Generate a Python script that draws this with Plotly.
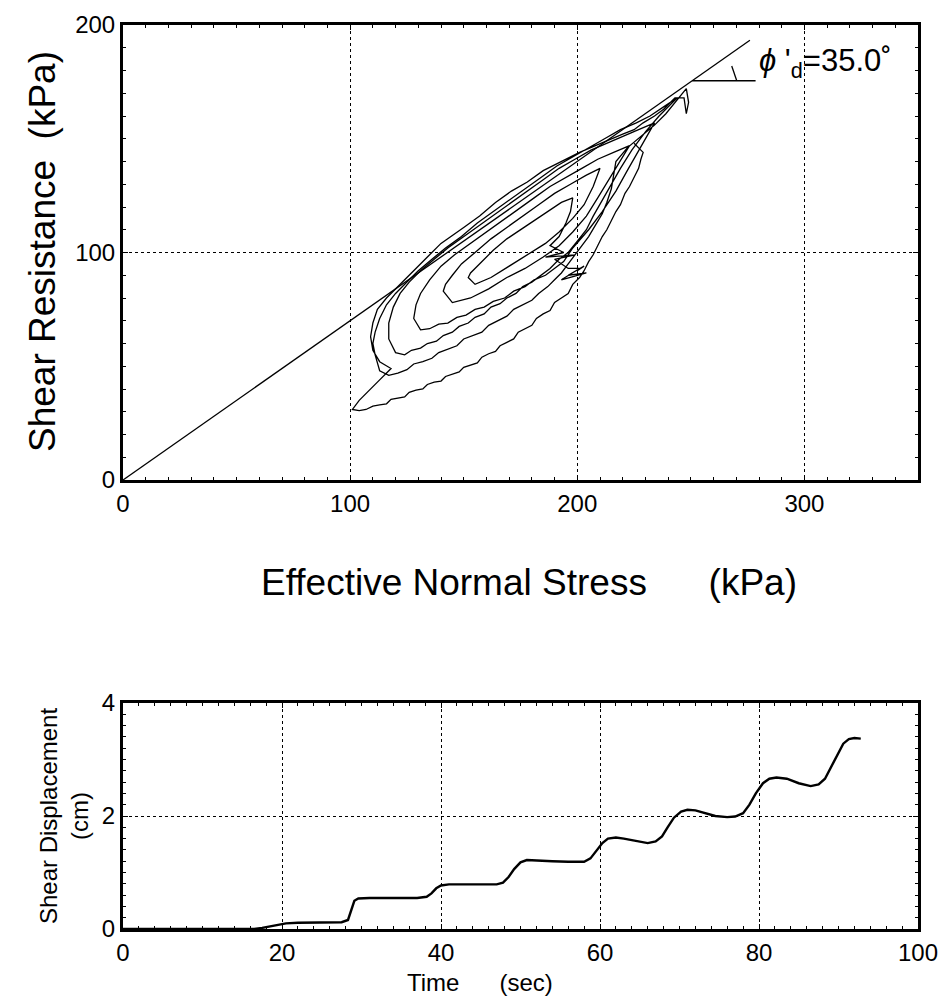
import math
import plotly.graph_objects as go

W, H = 943, 998

# ---------------- Top chart data: stress path (kPa) ----------------
start_x = [200, 203, 196, 204, 193, 201, 196, 190, 199, 186, 194, 188, 192, 195, 197, 198]
start_y = [92, 94, 90, 91, 88, 93, 93, 97, 99, 98, 100, 103, 107, 113, 118, 124]

c1_x = [193, 187, 181, 175, 169, 163, 157, 153, 152, 155, 162, 170, 178, 186, 192, 198, 203, 207, 210]
c1_y = [122, 118, 114, 110, 106, 101, 95, 91, 89, 86, 89, 94, 99, 104, 109, 115, 121, 129, 137]

c2_x = [204, 197, 190, 183, 176, 169, 162, 155, 149, 145, 142, 141, 145, 153, 161, 169, 177, 185, 192, 198, 204, 209, 214, 219, 223]
c2_y = [134, 130, 126, 121, 116, 111, 106, 100, 95, 90, 86, 83, 78, 80, 84, 89, 93, 98, 103, 109, 116, 124, 132, 140, 147]

c3_x = [216, 209, 202, 195, 188, 181, 174, 167, 160, 153, 146, 140, 135, 131, 129, 128,
        131, 135, 139, 143, 147, 151, 155, 159, 163, 168, 172, 177, 181, 186, 190, 194, 198, 205, 211, 217, 222, 227, 231, 234]
c3_y = [144, 141, 137, 133, 129, 124, 119, 114, 109, 104, 99, 94, 88, 82, 77, 71,
        66, 66.5, 68.5, 69, 71.5, 72.5, 75, 76, 78.5, 80, 83, 85, 88, 90, 93, 96, 102, 110, 118, 127, 136, 145, 152, 157]

c4_x = [227, 220, 213, 206, 199, 192, 185, 178, 171, 164, 157, 150, 143, 137, 131, 126, 122, 119, 117, 117,
        120, 124, 127, 131, 134, 138, 141, 145, 148, 152, 155, 159, 162, 166, 169, 173, 176, 180, 184, 188,
        192, 196, 200, 204, 207, 211, 215, 219, 224, 230, 236, 240, 244]
c4_y = [154, 151, 148, 145, 141, 137, 132, 127, 122, 117, 112, 107, 102, 97, 92, 87, 82, 76, 69, 62,
        56, 55, 57, 58, 60, 61, 63.5, 65, 67.5, 69, 71.5, 73, 76, 77.5, 80, 82, 85, 87, 90, 93,
        97, 100, 105, 110, 116, 123, 130, 137, 145, 153, 160, 164, 168]

c5_x = [238, 232, 226, 219, 212, 205, 198, 191, 184, 177, 170, 163, 156, 149, 142, 136, 130, 125, 120, 116, 113, 111, 110, 111,
        113, 117, 121, 125, 128, 132, 136, 139, 143, 147, 150, 154, 158, 161, 165, 169, 172, 176, 180, 183, 187,
        190, 193, 196, 199, 202, 205, 208, 211, 213, 215, 216, 217, 222, 228, 234, 239, 243, 247]
c5_y = [164, 160, 157, 154, 150, 146, 142, 138, 133, 128, 123, 118, 113, 107, 102, 97, 92, 87, 82, 77, 71, 65, 60, 55,
        48, 46, 47, 48.5, 51, 52, 53.5, 56, 57.5, 59, 62, 63.5, 65, 68, 70, 72, 75, 77, 79, 82, 85,
        88, 91, 95, 99, 103, 107, 112, 117, 122, 128, 134, 140, 146, 151, 156, 161, 166, 171]

c6_x = [248, 249, 248, 247, 243, 238, 234, 229, 225, 220, 215, 208, 201, 193, 185, 178, 171, 164, 157, 150, 144, 140,
        135, 131, 126, 121, 116, 112, 110, 109, 110, 113, 118, 113, 108, 104, 101,
        104, 107, 110, 113, 116, 118, 121, 124, 126, 129, 132, 134, 137, 140, 142, 145, 148, 150, 153, 156, 158,
        161, 164, 166, 169, 172, 174, 177, 180, 182, 185, 188, 190, 193, 196, 198, 201, 203, 205, 207, 209, 211,
        213, 215, 217, 219, 221, 223, 225, 227, 228, 229, 227, 225]
c6_y = [172, 166, 161, 168, 168, 163, 160, 157, 154, 152, 150, 147, 144, 140, 136, 131, 127, 122, 116, 111, 107, 104,
        99, 95, 90, 85, 80, 75, 69, 63, 57, 52, 49, 44, 39, 35, 31,
        30.5, 31, 32.5, 33, 33.5, 35.5, 36, 36.5, 38.5, 39.5, 40, 42, 43, 43.5, 45.5, 46.5, 47.5, 49.5, 50.5, 51.5, 54,
        55.5, 56.5, 59, 60.5, 62, 65, 66.5, 68, 71, 73, 74.5, 78, 80, 82, 86, 89, 92, 96, 99, 103, 107,
        110, 114, 118, 121, 126, 129, 133, 137, 141, 144, 146, 148]

phi_deg = 35.0
line_x_end = 276

# ---------------- Bottom chart data ----------------
time_s = [0, 5, 10, 15, 16.5, 17.5, 18.5, 19.5, 20.5, 22, 24, 26, 27.5, 28.3, 28.7, 29.1, 29.6, 31, 33, 35, 37, 38.2,
          38.8, 39.4, 40, 41, 43, 45, 47, 47.8, 48.5, 49.2, 50, 50.8, 52, 54, 56, 58, 58.8, 59.5, 60.3, 61, 62, 63,
          64.5, 66, 67, 67.8, 68.5, 69.3, 70.2, 71, 72, 73, 74.5, 76, 77, 78, 78.8, 79.6, 80.5, 81.3, 82.2, 83.5,
          85, 86.5, 87.5, 88.3, 89, 89.8, 90.6, 91.3, 92, 92.8]
disp_cm = [0, 0, 0, 0, 0.0, 0.02, 0.05, 0.08, 0.1, 0.11, 0.11, 0.11, 0.12, 0.16, 0.35, 0.5, 0.54, 0.55, 0.55, 0.55, 0.55, 0.57,
           0.63, 0.72, 0.77, 0.79, 0.79, 0.79, 0.79, 0.82, 0.92, 1.06, 1.18, 1.22, 1.21, 1.2, 1.19, 1.19, 1.25, 1.38, 1.52, 1.6, 1.62, 1.6,
           1.56, 1.52, 1.55, 1.64, 1.8, 1.97, 2.08, 2.11, 2.1, 2.06, 2.0, 1.98, 1.99, 2.05, 2.2, 2.4, 2.58, 2.66, 2.68, 2.66,
           2.58, 2.53, 2.56, 2.66, 2.85, 3.08, 3.28, 3.36, 3.38, 3.37]

# ---------------- geometry ----------------
def px_x(p):
    return p / W

def px_y(p):
    return 1 - p / H

top_dom_x = [px_x(123), px_x(918)]
top_dom_y = [px_y(480), px_y(25)]
bot_dom_x = [px_x(123), px_x(918)]
bot_dom_y = [px_y(929), px_y(703)]

FONT = "Liberation Sans, Arial, sans-serif"
LC = "black"
NB = "\u00a0"

fig = go.Figure()

# failure line
fig.add_trace(go.Scatter(x=[0, line_x_end], y=[0, line_x_end * math.tan(math.radians(phi_deg))],
                         mode="lines", line=dict(color=LC, width=1.3), xaxis="x", yaxis="y",
                         showlegend=False, hoverinfo="skip"))

path_x = start_x + c1_x + c2_x + c3_x + c4_x + c5_x + c6_x
path_y = start_y + c1_y + c2_y + c3_y + c4_y + c5_y + c6_y
fig.add_trace(go.Scatter(x=path_x, y=path_y, mode="lines", line=dict(color=LC, width=1.3),
                         xaxis="x", yaxis="y", showlegend=False))

# angle marker
y0 = 175.5
x0 = y0 / math.tan(math.radians(phi_deg))
fig.add_trace(go.Scatter(x=[x0, 278.5], y=[y0, y0], mode="lines", line=dict(color=LC, width=1.3),
                         xaxis="x", yaxis="y", showlegend=False, hoverinfo="skip"))
fig.add_trace(go.Scatter(x=[268.0, 270.2], y=[182.0, y0], mode="lines", line=dict(color=LC, width=1.3),
                         xaxis="x", yaxis="y", showlegend=False, hoverinfo="skip"))

# bottom series
fig.add_trace(go.Scatter(x=time_s, y=disp_cm, mode="lines", line=dict(color=LC, width=2.4),
                         xaxis="x2", yaxis="y2", showlegend=False))

axis_common = dict(showline=True, linewidth=3, linecolor=LC, mirror="ticks", ticks="inside", ticklen=5,
                   tickcolor=LC, tickwidth=1, showgrid=True, gridcolor=LC, gridwidth=1, griddash="dot",
                   zeroline=False, automargin=False, tickfont=dict(family=FONT, size=24, color=LC))

fig.update_layout(
    width=W, height=H, margin=dict(l=0, r=0, t=0, b=0),
    paper_bgcolor="white", plot_bgcolor="white",
    xaxis=dict(domain=top_dom_x, range=[0, 350], tickvals=[0, 100, 200, 300], anchor="y",
               minor=dict(ticks="inside", dtick=10, ticklen=3, tickcolor=LC, showgrid=False), **axis_common),
    yaxis=dict(domain=top_dom_y, range=[0, 200], tickvals=[0, 100, 200], anchor="x",
               minor=dict(ticks="inside", dtick=10, ticklen=3, tickcolor=LC, showgrid=False), **axis_common),
    xaxis2=dict(domain=bot_dom_x, range=[0, 100], tickvals=[0, 20, 40, 60, 80, 100], anchor="y2",
                minor=dict(ticks="inside", dtick=2, ticklen=3, tickcolor=LC, showgrid=False), **axis_common),
    yaxis2=dict(domain=bot_dom_y, range=[0, 4], tickvals=[0, 2, 4], anchor="x2",
                minor=dict(ticks="inside", dtick=0.2, ticklen=3, tickcolor=LC, showgrid=False), **axis_common),
)

ann = [
    dict(text="Effective Normal Stress" + NB * 6 + "(kPa)", x=px_x(529), y=px_y(582), size=37, angle=0),
    dict(text="Shear Resistance" + NB * 2 + "(kPa)", x=px_x(42), y=px_y(252), size=37, angle=-90),
    dict(text="Time" + NB * 6 + "(sec)", x=px_x(480), y=px_y(982), size=24, angle=0),
    dict(text="Shear Displacement<br>(cm)", x=px_x(64), y=px_y(816), size=24, angle=-90),
]
for a in ann:
    fig.add_annotation(text=a["text"], x=a["x"], y=a["y"], xref="paper", yref="paper", showarrow=False,
                       textangle=a["angle"], font=dict(family=FONT, size=a["size"], color=LC),
                       xanchor="center", yanchor="middle")

fig.add_annotation(text="<i>ϕ</i>" + NB + "'<sub>d</sub>=35.0˚", x=279, y=183.5, xref="x", yref="y", showarrow=False,
                   xanchor="left", yanchor="middle", font=dict(family=FONT, size=31, color=LC))

fig.write_html("out.html", config={"displayModeBar": False},
               post_script="document.body.style.margin='0px';document.body.style.overflow='hidden';")
